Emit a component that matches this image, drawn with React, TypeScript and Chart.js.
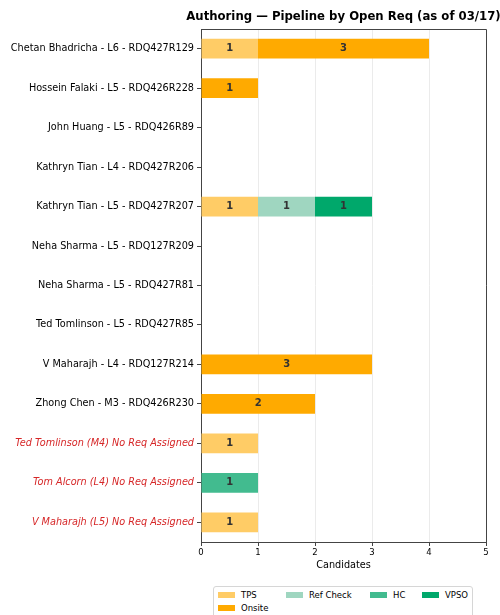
import { useEffect, useRef } from "react";
import { Chart, registerables } from "chart.js";

Chart.register(...registerables);

const reqs = [
  "Chetan Bhadricha - L6 - RDQ427R129",
  "Hossein Falaki - L5 - RDQ426R228",
  "John Huang - L5 - RDQ426R89",
  "Kathryn Tian - L4 - RDQ427R206",
  "Kathryn Tian - L5 - RDQ427R207",
  "Neha Sharma - L5 - RDQ127R209",
  "Neha Sharma - L5 - RDQ427R81",
  "Ted Tomlinson - L5 - RDQ427R85",
  "V Maharajh - L4 - RDQ127R214",
  "Zhong Chen - M3 - RDQ426R230",
  "Ted Tomlinson (M4) No Req Assigned",
  "Tom Alcorn (L4) No Req Assigned",
  "V Maharajh (L5) No Req Assigned",
];

const tps = [1, 0, 0, 0, 1, 0, 0, 0, 0, 0, 1, 0, 1];
const onsite = [3, 1, 0, 0, 0, 0, 0, 0, 3, 2, 0, 0, 0];
const refCheck = [0, 0, 0, 0, 1, 0, 0, 0, 0, 0, 0, 0, 0];
const hc = [0, 0, 0, 0, 0, 0, 0, 0, 0, 0, 0, 1, 0];
const vpso = [0, 0, 0, 0, 1, 0, 0, 0, 0, 0, 0, 0, 0];

const xTicks = [0, 1, 2, 3, 4, 5];

const stages = [
  { label: "TPS", data: tps, color: "#ffcc66" },
  { label: "Onsite", data: onsite, color: "#ffaa00" },
  { label: "Ref Check", data: refCheck, color: "#9fd6c0" },
  { label: "HC", data: hc, color: "#42bb8f" },
  { label: "VPSO", data: vpso, color: "#00a86b" },
];

const TITLE = "Authoring — Pipeline by Open Req (as of 03/17)";
const FONT = "'DejaVu Sans', sans-serif";
const isNoReq = (s: string) => s.includes("No Req Assigned");

// title, value labels inside each segment, top/right spines
const extras = {
  id: "extras",
  afterDatasetsDraw(chart: any) {
    const { ctx, chartArea } = chart;
    ctx.save();
    ctx.font = `bold 10px ${FONT}`;
    ctx.fillStyle = "#333333";
    ctx.textAlign = "center";
    ctx.textBaseline = "middle";
    chart.data.datasets.forEach((ds: any, i: number) => {
      const meta = chart.getDatasetMeta(i);
      meta.data.forEach((bar: any, j: number) => {
        const v = ds.data[j];
        if (!v) return;
        ctx.fillText(String(v), (bar.x + bar.base) / 2, bar.y);
      });
    });
    ctx.strokeStyle = "#444444";
    ctx.lineWidth = 1;
    ctx.beginPath();
    ctx.moveTo(chartArea.left, chartArea.top + 0.5);
    ctx.lineTo(chartArea.right + 0.5, chartArea.top + 0.5);
    ctx.lineTo(chartArea.right + 0.5, chartArea.bottom);
    ctx.stroke();
    ctx.font = `bold 11.7px ${FONT}`;
    ctx.fillStyle = "#000";
    ctx.fillText(TITLE, (chartArea.left + chartArea.right) / 2, 17);
    ctx.restore();
  },
};

export default function App() {
  const ref = useRef<HTMLCanvasElement | null>(null);

  useEffect(() => {
    document.body.style.margin = "0";
    if (!ref.current) return;
    const chart = new Chart(ref.current, {
      type: "bar",
      data: {
        labels: reqs,
        datasets: stages.map((s) => ({
          label: s.label,
          data: s.data,
          backgroundColor: s.color,
          borderWidth: 0,
          categoryPercentage: 0.5,
          barPercentage: 1,
        })),
      },
      options: {
        indexAxis: "y",
        animation: false,
        responsive: false,
        layout: { padding: { left: 0, right: 14, top: 29, bottom: 0 } },
        plugins: {
          legend: { display: false },
          tooltip: { enabled: false },
          title: { display: false },
        },
        scales: {
          x: {
            stacked: true,
            min: 0,
            max: 5,
            afterBuildTicks: (scale: any) => {
              scale.ticks = xTicks.map((v) => ({ value: v }));
            },
            ticks: { color: "#000", font: { family: FONT, size: 8.5 }, padding: 2 },
            grid: { color: "#ebebeb", tickColor: "#444", tickLength: 4 },
            border: { color: "#444", width: 1 },
            title: {
              display: true,
              text: "Candidates",
              color: "#000",
              font: { family: FONT, size: 9.7 },
              padding: { top: 1, bottom: 0 },
            },
            afterFit: (scale: any) => {
              scale.height = 29;
            },
          },
          y: {
            stacked: true,
            offset: true,
            ticks: {
              padding: 3,
              color: (ctx: any) => (isNoReq(reqs[ctx.index] || "") ? "#d62728" : "#000"),
              font: (ctx: any) => ({
                family: FONT,
                size: 9.7,
                style: isNoReq(reqs[ctx.index] || "") ? "italic" : "normal",
              }),
            },
            grid: { offset: false, drawOnChartArea: false, tickColor: "#444", tickLength: 4 },
            border: { color: "#444", width: 1 },
            afterFit: (scale: any) => {
              scale.width = 201;
            },
          },
        },
      },
      plugins: [extras],
    });
    return () => chart.destroy();
  }, []);

  const sw = (c: string) => (
    <span style={{ display: "inline-block", width: 17, height: 6, background: c, marginRight: 6 }} />
  );
  const cell = (s: (typeof stages)[number]) => (
    <div style={{ display: "flex", alignItems: "center", height: 13 }}>
      {sw(s.color)}
      <span>{s.label}</span>
    </div>
  );

  return (
    <div style={{ position: "relative", width: 500, height: 615, overflow: "hidden", background: "#fff" }}>
      <canvas ref={ref} width={500} height={571} style={{ display: "block" }} />
      <div
        style={{
          position: "absolute",
          left: 213,
          top: 586,
          width: 254,
          height: 40,
          border: "1px solid #d6d6d6",
          borderRadius: 3,
          padding: "1px 0 0 4px",
          fontFamily: FONT,
          fontSize: 8.5,
          color: "#000",
          display: "grid",
          gridTemplateColumns: "68px 84px 52px 50px",
          gridAutoFlow: "column",
          gridTemplateRows: "13px 13px",
        }}
      >
        {cell(stages[0])}
        {cell(stages[1])}
        {cell(stages[2])}
        <div />
        {cell(stages[3])}
        <div />
        {cell(stages[4])}
      </div>
    </div>
  );
}
